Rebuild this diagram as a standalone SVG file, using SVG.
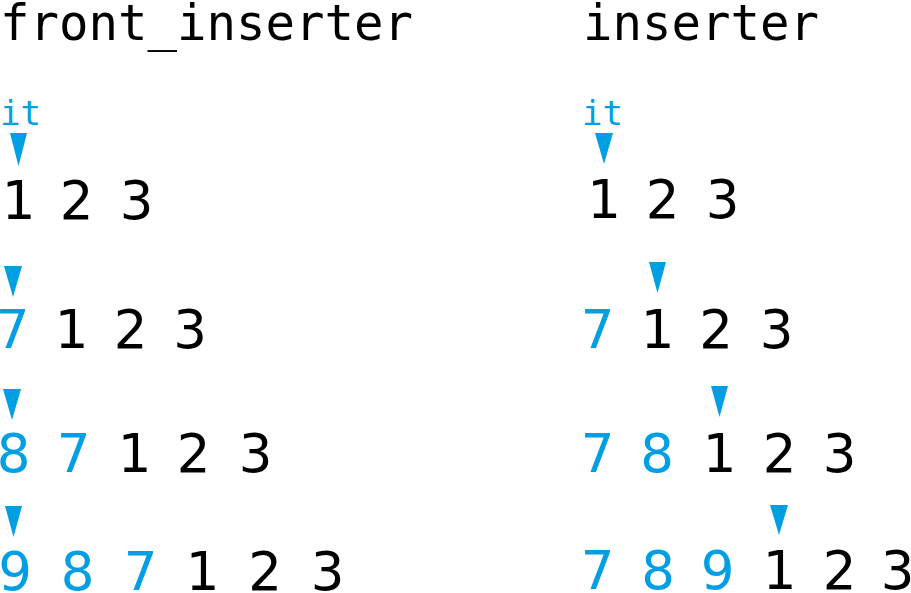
<svg xmlns="http://www.w3.org/2000/svg" width="911" height="593" viewBox="0 0 911 593">
<style>
.t{font-family:"DejaVu Sans Mono","Liberation Mono",monospace;font-size:49px;fill:#000}
.it{font-family:"DejaVu Sans Mono","Liberation Mono",monospace;font-size:34px;fill:#009FE3}
.d{font-family:"DejaVu Sans","Noto Sans",sans-serif;font-size:53px;fill:#000;text-anchor:middle}
.b{fill:#009FE3}
.p{fill:#009FE3}
</style>
<rect width="911" height="593" fill="#fff"/>
<g id="title-front"><text class="t" x="0" y="40">front_inserter</text></g>
<g id="title-inserter"><text class="t" x="583" y="40">inserter</text></g>
<g id="label-it-left"><text class="it" x="0" y="125">it</text></g>
<g id="label-it-right"><text class="it" x="582" y="125">it</text></g>

<g id="left-row1"><text class="d" y="219"><tspan x="18.5">1</tspan><tspan x="76.5">2</tspan><tspan x="136.5">3</tspan></text></g>
<g id="left-row2"><text class="d" y="348"><tspan class="b" x="12.5">7</tspan><tspan x="71.5">1</tspan><tspan x="130.5">2</tspan><tspan x="190">3</tspan></text></g>
<g id="left-row3"><text class="d" y="472"><tspan class="b" x="13.5">8</tspan><tspan class="b" x="73.5">7</tspan><tspan x="134.5">1</tspan><tspan x="193.5">2</tspan><tspan x="255.5">3</tspan></text></g>
<g id="left-row4"><text class="d" y="590"><tspan class="b" x="15">9</tspan><tspan class="b" x="77.5">8</tspan><tspan class="b" x="140.5">7</tspan><tspan x="202.5">1</tspan><tspan x="265">2</tspan><tspan x="327.5">3</tspan></text></g>

<g id="right-row1"><text class="d" y="218"><tspan x="604">1</tspan><tspan x="662.5">2</tspan><tspan x="722.5">3</tspan></text></g>
<g id="right-row2"><text class="d" y="348"><tspan class="b" x="597.5">7</tspan><tspan x="657.5">1</tspan><tspan x="716">2</tspan><tspan x="776.5">3</tspan></text></g>
<g id="right-row3"><text class="d" y="472"><tspan class="b" x="597.5">7</tspan><tspan class="b" x="657">8</tspan><tspan x="719.5">1</tspan><tspan x="779.5">2</tspan><tspan x="839.5">3</tspan></text></g>
<g id="right-row4"><text class="d" y="589"><tspan class="b" x="597.5">7</tspan><tspan class="b" x="658">8</tspan><tspan class="b" x="717.5">9</tspan><tspan x="779.5">1</tspan><tspan x="839.5">2</tspan><tspan x="897.5">3</tspan></text></g>

<g id="pointers">
<polygon class="p" points="10,133 27,133 18.5,166"/>
<polygon class="p" points="4,266 22,266 13,297"/>
<polygon class="p" points="3,389 21,389 12,420"/>
<polygon class="p" points="5,506 22,506 13.5,537"/>
<polygon class="p" points="595,133 613,133 604,164"/>
<polygon class="p" points="649,262 666,262 657.5,293"/>
<polygon class="p" points="711,386 728,386 719.5,417"/>
<polygon class="p" points="770,505 788,505 779,535"/>
</g>
</svg>
